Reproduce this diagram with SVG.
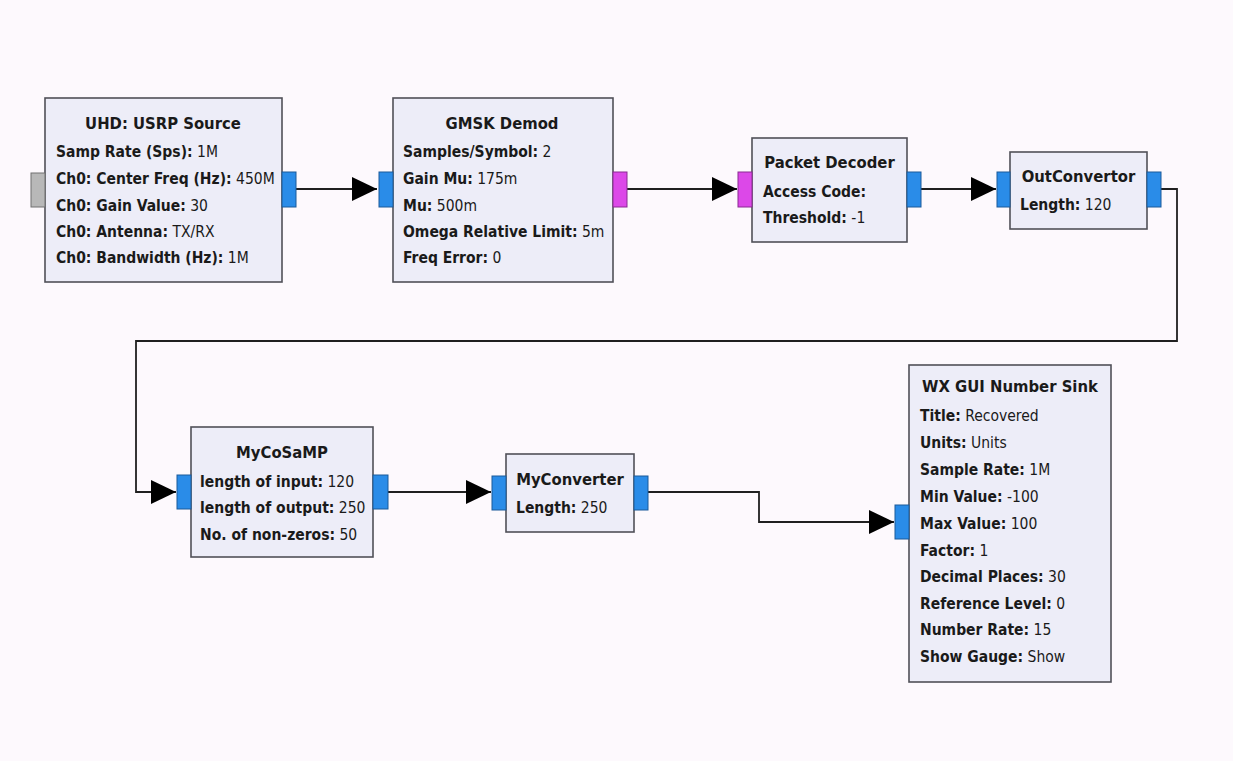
<svg xmlns="http://www.w3.org/2000/svg" width="1233" height="761" viewBox="0 0 1233 761">
<style>
.bg{fill:#fdf9fd}
.blk{fill:#ededf8;stroke:#505058;stroke-width:1.6}
.pb{fill:#2a8ce8;stroke:#1a5a9a;stroke-width:1}
.pm{fill:#dc48e8;stroke:#8a2a92;stroke-width:1}
.pg{fill:#b8b8b8;stroke:#707070;stroke-width:1}
text{font-family:"DejaVu Sans Condensed","DejaVu Sans",sans-serif;font-size:15.5px;fill:#1a1a1a}
.t{font-weight:bold;text-anchor:middle;font-size:16.5px}
.k{font-weight:bold}
.w{stroke:#202020;stroke-width:1.8;fill:none}
</style>
<defs>
<marker id="ah" markerWidth="25" markerHeight="24" refX="25" refY="12" orient="auto" markerUnits="userSpaceOnUse">
<path d="M0,0 L25,12 L0,24 Z" fill="#000"/>
</marker>
</defs>
<rect class="bg" x="0" y="0" width="1233" height="761"/>

<g id="connectors">
<path class="w" d="M296,189 L377,189" marker-end="url(#ah)"/>
<path class="w" d="M627,189 L737,189" marker-end="url(#ah)"/>
<path class="w" d="M921,189 L996,189" marker-end="url(#ah)"/>
<path class="w" d="M1161,189 L1177,189 L1177,341 L136,341 L136,492 L176,492" marker-end="url(#ah)"/>
<path class="w" d="M388,492 L491,492" marker-end="url(#ah)"/>
<path class="w" d="M648,492 L759,492 L759,522 L894,522" marker-end="url(#ah)"/>
</g>

<g id="uhd_usrp_source">
<rect class="blk" x="45" y="98" width="237" height="184"/>
<rect class="pg" x="31" y="173" width="14" height="34"/>
<rect class="pb" x="282" y="172" width="14" height="35"/>
<text class="t" x="163" y="129">UHD: USRP Source</text>
<text x="56" y="157"><tspan class="k">Samp Rate (Sps):</tspan> 1M</text>
<text x="56" y="184"><tspan class="k">Ch0: Center Freq (Hz):</tspan> 450M</text>
<text x="56" y="211"><tspan class="k">Ch0: Gain Value:</tspan> 30</text>
<text x="56" y="237"><tspan class="k">Ch0: Antenna:</tspan> TX/RX</text>
<text x="56" y="263"><tspan class="k">Ch0: Bandwidth (Hz):</tspan> 1M</text>
</g>

<g id="gmsk_demod">
<rect class="blk" x="393" y="98" width="220" height="184"/>
<rect class="pb" x="379" y="172" width="14" height="35"/>
<rect class="pm" x="613" y="172" width="14" height="35"/>
<text class="t" x="502" y="129">GMSK Demod</text>
<text x="403" y="157"><tspan class="k">Samples/Symbol:</tspan> 2</text>
<text x="403" y="184"><tspan class="k">Gain Mu:</tspan> 175m</text>
<text x="403" y="211"><tspan class="k">Mu:</tspan> 500m</text>
<text x="403" y="237"><tspan class="k">Omega Relative Limit:</tspan> 5m</text>
<text x="403" y="263"><tspan class="k">Freq Error:</tspan> 0</text>
</g>

<g id="packet_decoder">
<rect class="blk" x="752" y="138" width="155" height="104"/>
<rect class="pm" x="738" y="172" width="14" height="35"/>
<rect class="pb" x="907" y="172" width="14" height="35"/>
<text class="t" x="829.5" y="168">Packet Decoder</text>
<text x="763" y="197"><tspan class="k">Access Code:</tspan></text>
<text x="763" y="223"><tspan class="k">Threshold:</tspan> -1</text>
</g>

<g id="outconvertor">
<rect class="blk" x="1010" y="152" width="137" height="77"/>
<rect class="pb" x="997" y="172" width="13" height="35"/>
<rect class="pb" x="1147" y="172" width="14" height="35"/>
<text class="t" x="1078.5" y="182">OutConvertor</text>
<text x="1020" y="210"><tspan class="k">Length:</tspan> 120</text>
</g>

<g id="mycosamp">
<rect class="blk" x="191" y="427" width="182" height="130"/>
<rect class="pb" x="177" y="475" width="14" height="34"/>
<rect class="pb" x="373" y="475" width="15" height="34"/>
<text class="t" x="282" y="458">MyCoSaMP</text>
<text x="200" y="487"><tspan class="k">length of input:</tspan> 120</text>
<text x="200" y="513"><tspan class="k">length of output:</tspan> 250</text>
<text x="200" y="540"><tspan class="k">No. of non-zeros:</tspan> 50</text>
</g>

<g id="myconverter">
<rect class="blk" x="506" y="454" width="128" height="78"/>
<rect class="pb" x="492" y="476" width="14" height="34"/>
<rect class="pb" x="634" y="476" width="14" height="34"/>
<text class="t" x="570" y="485">MyConverter</text>
<text x="516" y="513"><tspan class="k">Length:</tspan> 250</text>
</g>

<g id="wx_gui_number_sink">
<rect class="blk" x="909" y="365" width="202" height="317"/>
<rect class="pb" x="895" y="505" width="14" height="34"/>
<text class="t" x="1010" y="392">WX GUI Number Sink</text>
<text x="920" y="421"><tspan class="k">Title:</tspan> Recovered</text>
<text x="920" y="448"><tspan class="k">Units:</tspan> Units</text>
<text x="920" y="475"><tspan class="k">Sample Rate:</tspan> 1M</text>
<text x="920" y="502"><tspan class="k">Min Value:</tspan> -100</text>
<text x="920" y="529"><tspan class="k">Max Value:</tspan> 100</text>
<text x="920" y="556"><tspan class="k">Factor:</tspan> 1</text>
<text x="920" y="582"><tspan class="k">Decimal Places:</tspan> 30</text>
<text x="920" y="609"><tspan class="k">Reference Level:</tspan> 0</text>
<text x="920" y="635"><tspan class="k">Number Rate:</tspan> 15</text>
<text x="920" y="662"><tspan class="k">Show Gauge:</tspan> Show</text>
</g>
</svg>
